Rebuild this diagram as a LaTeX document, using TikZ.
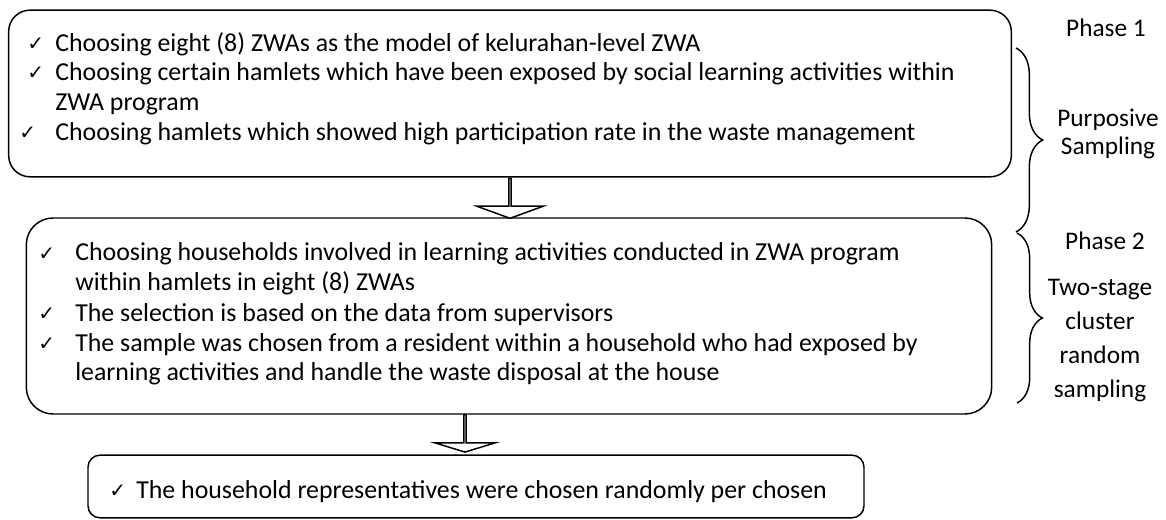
\documentclass[tikz,border=0pt]{standalone}
\usepackage{fontspec}
\setmainfont{Carlito}
\newfontfamily\checkfont{DejaVu Sans}
\usetikzlibrary{shapes.arrows,decorations.pathreplacing}

\tikzset{
  phasebox/.style={draw, line width=1.1pt, inner sep=0pt},
  txt/.style={anchor=base west, inner sep=0pt, font=\fontsize{19.4}{22}\selectfont},
  tick/.style={anchor=base west, inner sep=0pt, font=\checkfont\fontsize{15}{15}\selectfont},
  side/.style={inner sep=0pt, align=center},
  blockarrow/.style={draw, line width=1.1pt, fill=white, single arrow, inner sep=0pt,
    rotate=-90, anchor=tail},
  phasebrace/.style={decorate, line width=1.1pt}
}

\begin{document}
\begin{tikzpicture}[x=0.75pt,y=-0.75pt]
\useasboundingbox (0,0) rectangle (1166,520);
% boxes
\node[phasebox, rounded corners=16pt, minimum width=752pt, minimum height=125pt] (box1) at (510,93.5) {};
\node[phasebox, rounded corners=20pt, minimum width=724pt, minimum height=147pt] (box2) at (509,316) {};
\node[phasebox, rounded corners=9pt, minimum width=582pt, minimum height=47pt] (box3) at (476,486.5) {};
% phase 1
\node[tick] (c11) at (27,51) {✓};
\node[txt] (t11) at (55,52) {Choosing eight (8) ZWAs as the model of kelurahan-level ZWA};
\node[tick] (c12) at (27,80) {✓};
\node[txt] (t12) at (55,81) {Choosing certain hamlets which have been exposed by social learning activities within};
\node[txt] (t13) at (55,111) {ZWA program};
\node[tick] (c14) at (19,140) {✓};
\node[txt] (t14) at (55,141) {Choosing hamlets which showed high participation rate in the waste management};
% phase 2
\node[tick] (c21) at (38,260) {✓};
\node[txt] (t21) at (75,261) {Choosing households involved in learning activities conducted in ZWA program};
\node[txt] (t22) at (75,290) {within hamlets in eight (8) ZWAs};
\node[tick] (c23) at (38,320) {✓};
\node[txt] (t23) at (75,321) {The selection is based on the data from supervisors};
\node[tick] (c24) at (38,350) {✓};
\node[txt] (t24) at (75,351) {The sample was chosen from a resident within a household who had exposed by};
\node[txt] (t25) at (75,380) {learning activities and handle the waste disposal at the house};
% result
\node[tick] (c31) at (109,497) {✓};
\node[txt] (t31) at (136,498) {The household representatives were chosen randomly per chosen};
% arrows
\node[blockarrow, minimum height=30pt, minimum width=50pt, single arrow head extend=15.4pt,
  single arrow tip angle=140] (arr1) at (box1.south) {};
\node[blockarrow, minimum height=28pt, minimum width=45pt, single arrow head extend=13.5pt,
  single arrow tip angle=146] (arr2) at (465,414) {};
% braces
\coordinate (b1top) at (1016,48);
\coordinate (b1bot) at (1016,232);
\coordinate (b2top) at (1017,233);
\coordinate (b2bot) at (1017,403);
\draw[phasebrace, decoration={brace, amplitude=20pt}] (b1top) -- (b1bot);
\draw[phasebrace, decoration={brace, amplitude=19pt}] (b2top) -- (b2bot);
% side labels
\node[side, font=\fontsize{19}{22}\selectfont] (ph1) at (1106,28) {Phase 1};
\node[side, font=\fontsize{19}{21}\selectfont] (purp) at (1108,134) {Purposive\\Sampling};
\node[side, font=\fontsize{19}{22}\selectfont] (ph2) at (1105,241) {Phase 2};
\node[side, font=\fontsize{19}{25.5}\selectfont] (tscr) at (1100,341) {Two-stage\\cluster\\random\\sampling};
\end{tikzpicture}
\end{document}
